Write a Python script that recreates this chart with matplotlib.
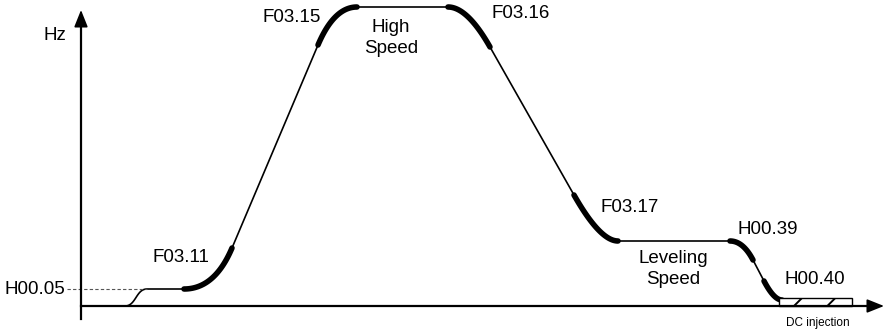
import numpy as np
import matplotlib
matplotlib.use("Agg")
import matplotlib.pyplot as plt
from matplotlib.patches import Rectangle, FancyArrowPatch

plt.rcParams['font.family'] = ['Liberation Sans', 'DejaVu Sans']
plt.rcParams['hatch.linewidth'] = 1.4

# ---- diagram data (time axis units, frequency units; origin at axis crossing) ----
axis_x0 = 81          # time origin
base_y = 306          # reference row for frequency zero

# key nodes of the speed profile: (time, frequency)
start_pt = (125, 0)
creep_pt = (147, 17)       # H00.05 level reached
creep_end = (184, 17)
acc_start = (232, 58)      # end of F03.11 S-curve
acc_end = (318, 261)       # start of F03.15 S-curve
high_start = (357, 299)
high_end = (448, 299)
dec_start = (490, 259)     # end of F03.16
dec_end = (574, 111)       # start of F03.17
lev_start = (618, 65)
lev_end = (730, 65)
stop1 = (753, 46)          # end of first H00.39 curve
stop2 = (764, 25)
stop_end = (782, 6)
dc_box = (779, 852, 8)     # start, end, height

labels = ["F03.11", "F03.15", "F03.16", "F03.17", "H00.39", "H00.40"]
label_pos = [(181, 48), (292, 288), (521, 292), (630, 98), (768, 76), (815, 26)]
speed_labels = ["High\nSpeed", "Leveling\nSpeed"]
speed_pos = [(391, 268), (673, 37)]
level_label = "H00.05"

fig = plt.figure(figsize=(8.87, 3.31), dpi=100)
ax = fig.add_axes([0, 0, 1, 1])
ax.set_xlim(0, 887)
ax.set_ylim(base_y - 331, base_y)
ax.axis('off')


def quad(p0, c, p1, n=40):
    t = np.linspace(0, 1, n)[:, None]
    p0, c, p1 = map(np.array, (p0, c, p1))
    pts = (1 - t) ** 2 * p0 + 2 * (1 - t) * t * c + t ** 2 * p1
    return pts[:, 0], pts[:, 1]


def cubic(p0, c1, c2, p1, n=40):
    t = np.linspace(0, 1, n)[:, None]
    p0, c1, c2, p1 = map(np.array, (p0, c1, c2, p1))
    pts = ((1 - t) ** 3 * p0 + 3 * (1 - t) ** 2 * t * c1
           + 3 * (1 - t) * t ** 2 * c2 + t ** 3 * p1)
    return pts[:, 0], pts[:, 1]


def corner(p_line_a, p_line_b, level):
    (xa, ya), (xb, yb) = p_line_a, p_line_b
    s = (yb - ya) / (xb - xa)
    return (xa + (level - ya) / s, level)


thin = dict(color='black', lw=1.2, solid_capstyle='butt')
thick = dict(color='black', lw=4.0, solid_capstyle='round')

# initial creep S-curve
x, y = cubic(start_pt, (136, 0), (136, 17), creep_pt)
ax.plot(x, y, **thin)
ax.plot([creep_pt[0], creep_end[0]], [creep_pt[1], creep_end[1]], **thin)
# F03.11
x, y = quad(creep_end, corner(acc_start, acc_end, creep_end[1]), acc_start)
ax.plot(x, y, **thick)
ax.plot([acc_start[0], acc_end[0]], [acc_start[1], acc_end[1]], **thin)
# F03.15
x, y = quad(acc_end, corner(acc_start, acc_end, high_start[1]), high_start)
ax.plot(x, y, **thick)
ax.plot([high_start[0], high_end[0]], [high_start[1], high_end[1]], **thin)
# F03.16
x, y = quad(high_end, corner(dec_start, dec_end, high_end[1]), dec_start)
ax.plot(x, y, **thick)
ax.plot([dec_start[0], dec_end[0]], [dec_start[1], dec_end[1]], **thin)
# F03.17
x, y = quad(dec_end, corner(dec_start, dec_end, lev_start[1]), lev_start)
ax.plot(x, y, **thick)
ax.plot([lev_start[0], lev_end[0]], [lev_start[1], lev_end[1]], **thin)
# H00.39 / H00.40
x, y = quad(lev_end, corner(stop1, stop2, lev_end[1]), stop1)
ax.plot(x, y, **thick)
ax.plot([stop1[0], stop2[0]], [stop1[1], stop2[1]], **thin)
x, y = quad(stop2, corner(stop1, stop2, stop_end[1]), stop_end)
ax.plot(x, y, **thick)

# DC injection box
ax.add_patch(Rectangle((dc_box[0], 0), dc_box[1] - dc_box[0], dc_box[2],
                       facecolor='white', edgecolor='black', lw=1.0,
                       hatch='/', zorder=3))

# H00.05 dashed reference
ax.plot([67, creep_pt[0]], [creep_pt[1], creep_pt[1]], color='#555555',
        lw=0.8, ls=(0, (3, 2)))

# axes with arrows
ax.plot([axis_x0, axis_x0], [-13, 284], color='black', lw=1.6)
ax.add_patch(FancyArrowPatch((axis_x0, 275), (axis_x0, 296),
                             arrowstyle='-|>,head_length=6.5,head_width=2.6',
                             mutation_scale=1.6, color='black', lw=1.2,
                             shrinkA=0, shrinkB=0))
ax.plot([axis_x0, 872], [0, 0], color='black', lw=1.6, zorder=4)
ax.add_patch(FancyArrowPatch((862, 0), (884, 0),
                             arrowstyle='-|>,head_length=6.5,head_width=2.6',
                             mutation_scale=1.6, color='black', lw=1.2,
                             shrinkA=0, shrinkB=0, zorder=4))

fs = 13.5
ax.text(55, base_y - 35, "Hz", fontsize=fs, ha='center', va='center')
ax.text(35, creep_pt[1], level_label, fontsize=fs, ha='center', va='center')
for lab, (lx, ly) in zip(labels, label_pos):
    ax.text(lx, ly, lab, fontsize=fs, ha='center', va='center')
for lab, (lx, ly) in zip(speed_labels, speed_pos):
    ax.text(lx, ly, lab, fontsize=fs, ha='center', va='center',
            linespacing=1.25)
ax.text(818, -17, "DC injection", fontsize=8.5, ha='center', va='center')

fig.savefig("out.png", dpi=100)
